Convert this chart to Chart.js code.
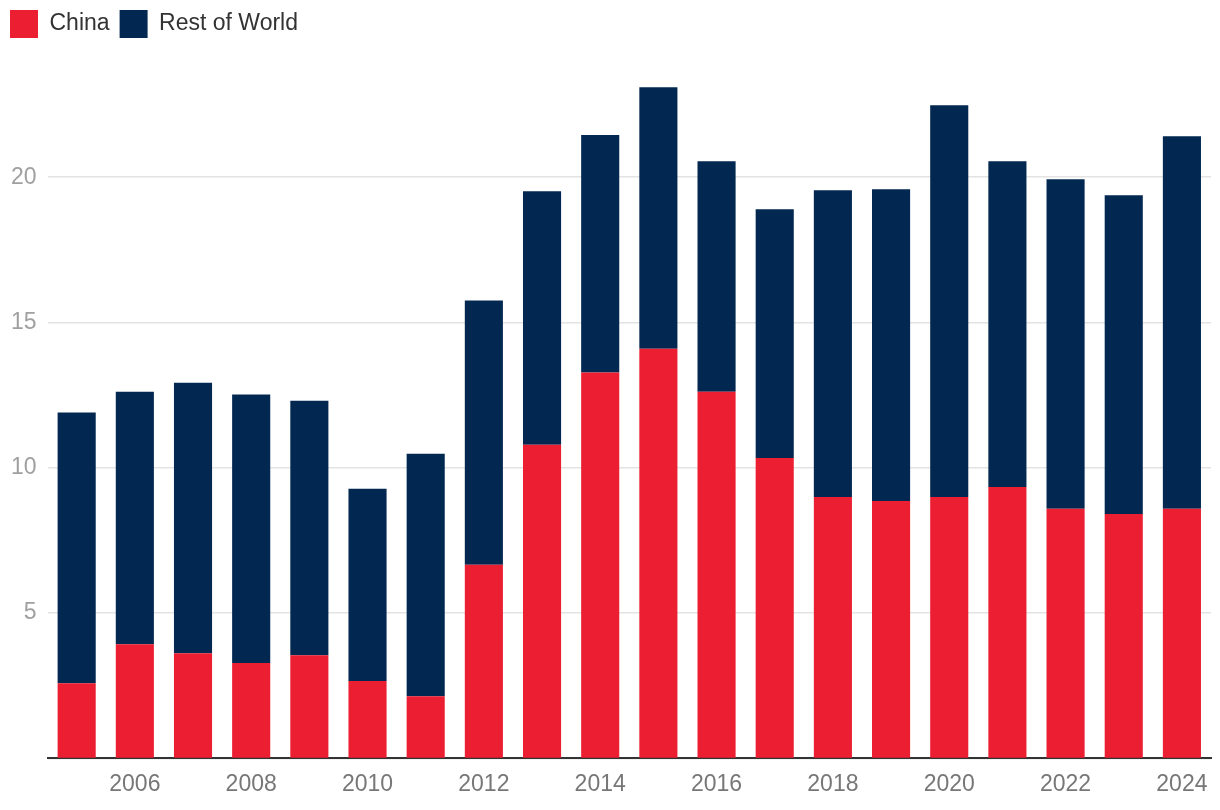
<!DOCTYPE html>
<html lang="en">
<head>
    <meta charset="UTF-8">
    <title>China vs Rest of World</title>
    <script src="https://cdn.jsdelivr.net/npm/chart.js"></script>
    <style>
        body { margin: 0; background: #fff; }
        .chart-box { width: 1220px; height: 810px; position: relative; }
    </style>
</head>
<body>

    <div class="chart-box">
        <canvas id="stackChart"></canvas>
    </div>

    <script>
        // values
        const years = ["2005", "2006", "2007", "2008", "2009", "2010", "2011", "2012", "2013", "2014",
                       "2015", "2016", "2017", "2018", "2019", "2020", "2021", "2022", "2023", "2024"];
        const chinaValues = [2.59, 3.93, 3.62, 3.28, 3.55, 2.66, 2.14, 6.66, 10.79, 13.28,
                             14.10, 12.62, 10.34, 9.00, 8.86, 9.00, 9.34, 8.59, 8.41, 8.59];
        const restValues = [9.31, 8.69, 9.31, 9.24, 8.76, 6.62, 8.34, 9.10, 8.73, 8.17,
                            9.00, 7.93, 8.56, 10.55, 10.73, 13.48, 11.21, 11.34, 10.97, 12.82];
        const yTicks = [5, 10, 15, 20];

        const fontFamily = "'Liberation Sans', Arial, Helvetica, sans-serif";

        // extra room between the legend and the plot
        const legendGap = {
            id: "legendGap",
            beforeInit(chart) {
                const origFit = chart.legend.fit;
                chart.legend.fit = function () {
                    origFit.bind(chart.legend)();
                    this.height += 13;
                };
            }
        };

        new Chart(document.getElementById("stackChart").getContext("2d"), {
            type: "bar",
            data: {
                labels: years,
                datasets: [
                    { label: "China", data: chinaValues, backgroundColor: "#EB1E32" },
                    { label: "Rest of World", data: restValues, backgroundColor: "#022851" }
                ]
            },
            plugins: [legendGap],
            options: {
                responsive: true,
                maintainAspectRatio: false,
                animation: false,
                layout: { padding: { left: 0, right: 9, top: 0, bottom: 0 } },
                datasets: {
                    bar: { categoryPercentage: 1, barPercentage: 0.655 }
                },
                plugins: {
                    tooltip: { enabled: false },
                    legend: {
                        position: "top",
                        align: "start",
                        labels: {
                            boxWidth: 28,
                            boxHeight: 28,
                            padding: 10,
                            color: "#333",
                            font: { size: 23, family: fontFamily }
                        }
                    }
                },
                scales: {
                    x: {
                        stacked: true,
                        grid: { display: false, drawTicks: false },
                        border: { display: true, color: "#333", width: 2 },
                        ticks: {
                            autoSkip: false,
                            maxRotation: 0,
                            padding: 12,
                            color: "#777",
                            font: { size: 23, family: fontFamily },
                            callback: function (value, index) {
                                const y = Number(years[index]);
                                return y % 2 === 0 ? years[index] : "";
                            }
                        }
                    },
                    y: {
                        stacked: true,
                        min: 0,
                        max: 24,
                        afterBuildTicks: function (axis) {
                            axis.ticks = [0].concat(yTicks).map(v => ({ value: v }));
                        },
                        grid: { color: "#e3e3e3", lineWidth: 1.5, drawTicks: false },
                        border: { display: false },
                        ticks: {
                            padding: 11,
                            color: "#a0a0a0",
                            font: { size: 23, family: fontFamily },
                            callback: function (value) {
                                return value === 0 ? "" : value;
                            }
                        }
                    }
                }
            }
        });
    </script>

</body>
</html>
